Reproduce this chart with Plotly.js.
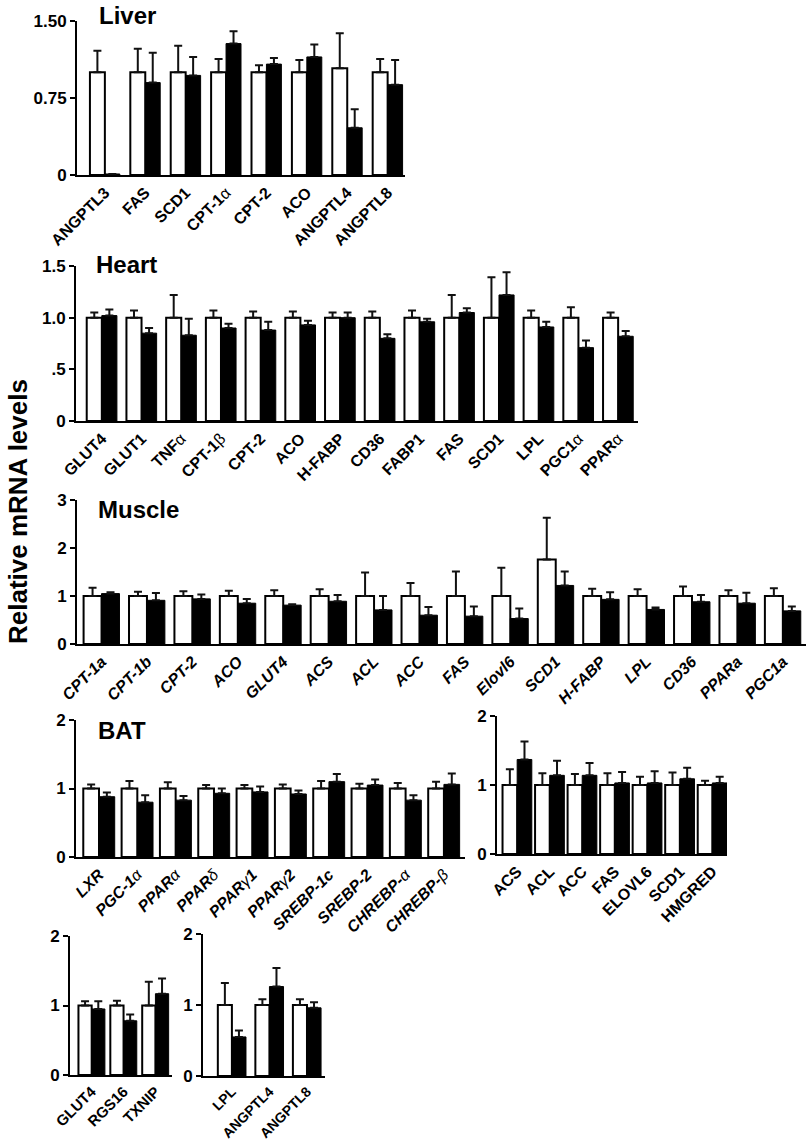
<!DOCTYPE html>
<html>
<head>
<meta charset="utf-8">
<script src="https://cdn.plot.ly/plotly-3.0.1.min.js"></script>
<style>html,body{margin:0;padding:0;background:#fff}#chart{width:807px;height:1147px}</style>
</head>
<body>
<div id="chart"></div>
<script>
// ---------------- DATA ----------------
// Liver
var liverGenes = ["ANGPTL3","FAS","SCD1","CPT-1α","CPT-2","ACO","ANGPTL4","ANGPTL8"];
var liverCtrl    = [1.00,1.00,1.00,1.00,1.00,1.00,1.04,1.00];
var liverCtrlSem = [0.21,0.23,0.26,0.13,0.07,0.12,0.34,0.13];
var liverKo      = [0.01,0.90,0.97,1.28,1.08,1.15,0.46,0.88];
var liverKoSem   = [0.00,0.29,0.18,0.12,0.06,0.12,0.18,0.24];

// Heart
var heartGenes = ["GLUT4","GLUT1","TNFα","CPT-1β","CPT-2","ACO","H-FABP","CD36","FABP1","FAS","SCD1","LPL","PGC1α","PPARα"];
var heartCtrl    = [1,1,1,1,1,1,1,1,1,1,1,1,1,1];
var heartCtrlSem = [0.05,0.07,0.22,0.07,0.06,0.06,0.05,0.06,0.07,0.22,0.39,0.07,0.10,0.05];
var heartKo      = [1.02,0.85,0.83,0.90,0.88,0.93,1.00,0.80,0.96,1.05,1.22,0.91,0.71,0.82];
var heartKoSem   = [0.06,0.05,0.16,0.04,0.08,0.04,0.05,0.04,0.03,0.04,0.22,0.05,0.07,0.05];

// Muscle
var muscleGenes = ["CPT-1a","CPT-1b","CPT-2","ACO","GLUT4","ACS","ACL","ACC","FAS","Elovl6","SCD1","H-FABP","LPL","CD36","PPARa","PGC1a"];
var muscleCtrl    = [1,1,1,1,1,1,1,1,1,1,1.76,1,1,1,1,1];
var muscleCtrlSem = [0.17,0.09,0.10,0.11,0.12,0.14,0.49,0.27,0.51,0.59,0.87,0.15,0.14,0.20,0.12,0.16];
var muscleKo      = [1.05,0.91,0.94,0.85,0.81,0.89,0.71,0.60,0.58,0.53,1.22,0.93,0.72,0.88,0.85,0.69];
var muscleKoSem   = [0.03,0.15,0.09,0.09,0.02,0.13,0.29,0.17,0.20,0.21,0.29,0.15,0.04,0.14,0.22,0.09];

// BAT (transcription factors)
var batTfGenes = ["LXR","PGC-1α","PPARα","PPARδ","PPARγ1","PPARγ2","SREBP-1c","SREBP-2","CHREBP-α","CHREBP-β"];
var batTfCtrl    = [1,1,1,1,1,1,1,1,1,1];
var batTfCtrlSem = [0.06,0.11,0.09,0.05,0.05,0.06,0.11,0.07,0.08,0.10];
var batTfKo      = [0.88,0.80,0.83,0.93,0.95,0.92,1.10,1.05,0.83,1.06];
var batTfKoSem   = [0.06,0.10,0.06,0.07,0.08,0.05,0.11,0.08,0.07,0.16];

// BAT (lipogenic genes)
var batLipoGenes = ["ACS","ACL","ACC","FAS","ELOVL6","SCD1","HMGRED"];
var batLipoCtrl    = [1,1,1,1,1,1,1];
var batLipoCtrlSem = [0.23,0.17,0.16,0.17,0.12,0.18,0.06];
var batLipoKo      = [1.37,1.14,1.14,1.03,1.03,1.09,1.03];
var batLipoKoSem   = [0.26,0.21,0.18,0.16,0.17,0.16,0.09];

// BAT (glucose)
var batGluGenes = ["GLUT4","RGS16","TXNIP"];
var batGluCtrl    = [1,1,1];
var batGluCtrlSem = [0.06,0.07,0.34];
var batGluKo      = [0.95,0.78,1.17];
var batGluKoSem   = [0.11,0.09,0.22];

// BAT (lipoprotein lipase / ANGPTLs)
var batLplGenes = ["LPL","ANGPTL4","ANGPTL8"];
var batLplCtrl    = [1,1,1];
var batLplCtrlSem = [0.31,0.08,0.08];
var batLplKo      = [0.55,1.26,0.96];
var batLplKoSem   = [0.09,0.26,0.08];

// ---------------- LAYOUT HELPERS ----------------
var W = 807, H = 1147;
var FONT = "Liberation Sans, Arial, Helvetica, sans-serif";
function px(x){ return x / W; }
function py(y){ return 1 - y / H; }
function thinGreek(s){
  return s.replace(/([α-ωΑ-Ω])/g, '<span style="font-weight:normal">$1</span>');
}

var traces = [];
var layout = {
  width: W, height: H, autosize: false,
  margin: {l:0, r:0, t:0, b:0, pad:0},
  paper_bgcolor: '#fff', plot_bgcolor: 'rgba(0,0,0,0)',
  showlegend: false,
  barmode: 'overlay',
  font: {family: FONT, color: '#000'},
  annotations: []
};

function panel(idx, genes, ctrl, ctrlSem, ko, koSem, opt){
  var xa = 'x' + (idx === 1 ? '' : idx), ya = 'y' + (idx === 1 ? '' : idx);
  var G = opt.group, half = G / 2;
  var zeros = genes.map(function(){ return 0; });
  traces.push({
    type: 'bar', x: genes, y: ctrl, xaxis: xa, yaxis: ya,
    width: half, offset: -half,
    marker: {color: '#fff', line: {color: '#000', width: 2}},
    error_y: {type: 'data', symmetric: false, array: ctrlSem, arrayminus: zeros,
              color: '#111', thickness: 2, width: opt.cap || 4},
    hoverinfo: 'skip'
  });
  traces.push({
    type: 'bar', x: genes, y: ko, xaxis: xa, yaxis: ya,
    width: half, offset: 0,
    marker: {color: '#000', line: {color: '#000', width: 1}},
    error_y: {type: 'data', symmetric: false, array: koSem, arrayminus: zeros,
              color: '#111', thickness: 2, width: opt.cap || 4},
    hoverinfo: 'skip'
  });
  var xk = 'xaxis' + (idx === 1 ? '' : idx), yk = 'yaxis' + (idx === 1 ? '' : idx);
  layout[xk] = {
    domain: [px(opt.x0), px(opt.x1)], anchor: ya,
    type: 'category', range: opt.xrange,
    tickvals: genes, ticktext: genes.map(thinGreek),
    tickangle: -45, ticks: '', showgrid: false, zeroline: false,
    showline: true, linecolor: '#000', linewidth: 2,
    tickfont: {family: FONT, size: opt.xfont || 16, weight: 'bold', style: opt.italic ? 'italic' : 'normal', color: '#000'},
    fixedrange: true
  };
  layout[yk] = {
    domain: [py(opt.y0), py(opt.y1)], anchor: xa,
    range: opt.yrange, tickvals: opt.tickvals, ticktext: opt.ticktext,
    ticks: 'outside', ticklen: 5, tickwidth: 2, tickcolor: '#000',
    showgrid: false, zeroline: false,
    showline: true, linecolor: '#000', linewidth: 2,
    tickfont: {family: FONT, size: 17, weight: 'bold', color: '#000'},
    fixedrange: true
  };
}

panel(1, liverGenes, liverCtrl, liverCtrlSem, liverKo, liverKoSem, {
  x0: 77, x1: 405, y0: 175, y1: 21, group: 0.74, xrange: [-0.69, 7.43],
  yrange: [0, 1.5], tickvals: [0, 0.75, 1.5], ticktext: ['0', '0.75', '1.50']
});
panel(2, heartGenes, heartCtrl, heartCtrlSem, heartKo, heartKoSem, {
  x0: 76, x1: 638, y0: 421, y1: 266, group: 0.76, xrange: [-0.65, 13.5],
  yrange: [0, 1.5], tickvals: [0, 0.5, 1, 1.5], ticktext: ['0', '.5', '1.0', '1.5']
});
panel(3, muscleGenes, muscleCtrl, muscleCtrlSem, muscleKo, muscleKoSem, {
  x0: 77, x1: 806, y0: 644, y1: 500, group: 0.79, xrange: [-0.54, 15.51], italic: true,
  yrange: [0, 3], tickvals: [0, 1, 2, 3], ticktext: ['0', '1', '2', '3']
});
panel(4, batTfGenes, batTfCtrl, batTfCtrlSem, batTfKo, batTfKoSem, {
  x0: 76, x1: 465, y0: 857, y1: 720, group: 0.82, xrange: [-0.6, 9.55], italic: true,
  yrange: [0, 2], tickvals: [0, 1, 2], ticktext: ['0', '1', '2']
});
panel(5, batLipoGenes, batLipoCtrl, batLipoCtrlSem, batLipoKo, batLipoKoSem, {
  x0: 497, x1: 727, y0: 854, y1: 716, group: 0.9, xrange: [-0.62, 6.45],
  yrange: [0, 2], tickvals: [0, 1, 2], ticktext: ['0', '1', '2']
});
panel(6, batGluGenes, batGluCtrl, batGluCtrlSem, batGluKo, batGluKoSem, {
  x0: 70, x1: 172, y0: 1075, y1: 936, group: 0.83, xrange: [-0.68, 2.52], xfont: 15,
  yrange: [0, 2], tickvals: [0, 1, 2], ticktext: ['0', '1', '2']
});
panel(7, batLplGenes, batLplCtrl, batLplCtrlSem, batLplKo, batLplKoSem, {
  x0: 203, x1: 325, y0: 1076, y1: 934, group: 0.75, xrange: [-0.77, 2.48], xfont: 14,
  yrange: [0, 2], tickvals: [0, 1, 2], ticktext: ['0', '1', '2']
});

function title(text, x, y){
  layout.annotations.push({
    xref: 'paper', yref: 'paper', x: px(x), y: py(y), xanchor: 'left', yanchor: 'middle',
    text: '<b>' + text + '</b>', showarrow: false,
    font: {family: FONT, size: 24, color: '#000'}
  });
}
title('Liver', 97, 16);
title('Heart', 94, 264);
title('Muscle', 96, 510);
title('BAT', 96, 730);

layout.annotations.push({
  xref: 'paper', yref: 'paper', x: px(18), y: py(512), xanchor: 'center', yanchor: 'middle',
  text: '<b>Relative mRNA levels</b>', textangle: -90, showarrow: false,
  font: {family: FONT, size: 26, color: '#000'}
});

Plotly.newPlot('chart', traces, layout, {staticPlot: true, displayModeBar: false});
</script>
</body>
</html>
